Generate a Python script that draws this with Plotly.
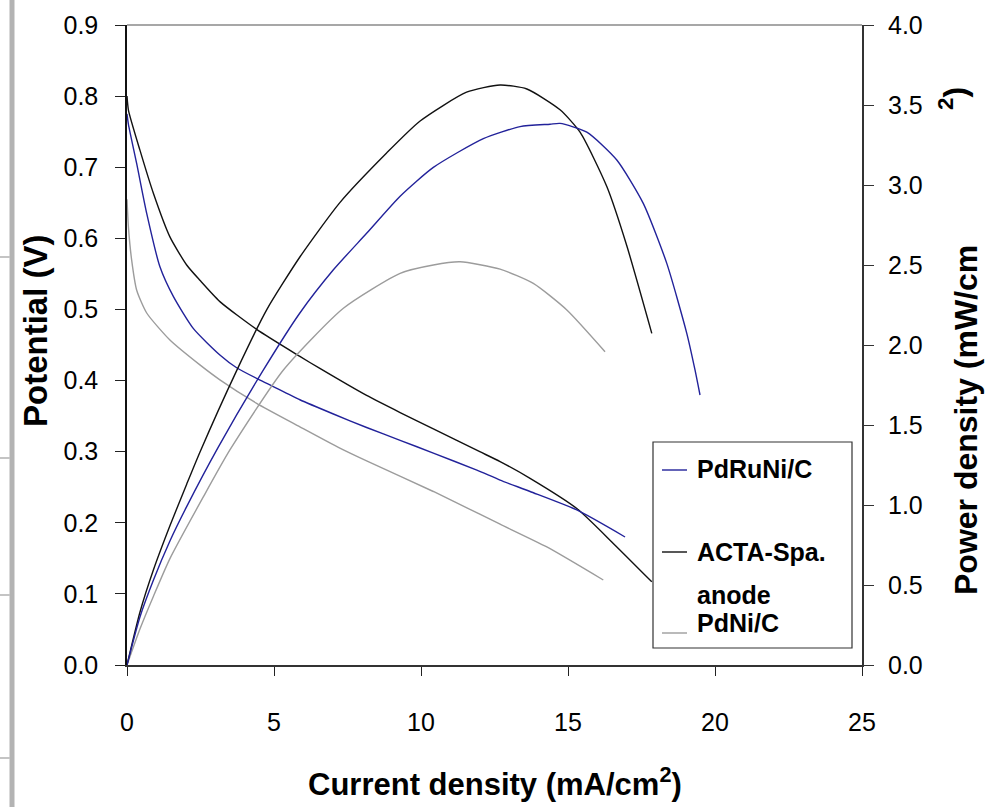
import plotly.graph_objects as go

# ---------------- data ----------------
# Polarization curves: current density (mA/cm2) vs potential (V)
I_acta_v = [0, 0.05, 0.44, 0.9, 1.46, 2.03, 2.48, 3.16, 4.41, 5.88, 6.56, 8.15, 9.29, 10.42, 12.0, 12.69, 13.71, 15.3, 16.54, 17.85]
V_acta = [0.80, 0.78, 0.724, 0.663, 0.602, 0.5625, 0.541, 0.511, 0.472, 0.434, 0.417, 0.379, 0.355, 0.332, 0.300, 0.286, 0.2625, 0.220, 0.171, 0.117]

I_runi_v = [0, 0.05, 0.33, 0.67, 1.12, 1.58, 2.26, 3.16, 3.73, 4.41, 4.86, 5.88, 7.02, 8.15, 9.29, 10.42, 11.9, 12.69, 13.71, 15.3, 16.94]
V_runi = [0.775, 0.76, 0.705, 0.635, 0.56, 0.518, 0.473, 0.436, 0.418, 0.403, 0.394, 0.373, 0.353, 0.334, 0.316, 0.298, 0.274, 0.260, 0.244, 0.218, 0.180]

I_ni_v = [0, 0.05, 0.16, 0.33, 0.67, 1.46, 2.48, 3.16, 4.41, 5.88, 7.24, 8.15, 10.42, 12.0, 12.69, 14.28, 16.2]
V_ni = [0.655, 0.615, 0.569, 0.527, 0.495, 0.457, 0.422, 0.401, 0.368, 0.335, 0.305, 0.287, 0.244, 0.212, 0.198, 0.166, 0.1195]

# Power density curves: current density (mA/cm2) vs power density (mW/cm2)
I_acta_p = [0, 0.44, 0.9, 1.46, 2.03, 2.48, 3.73, 4.75, 5.88, 7.24, 8.83, 9.97, 11.55, 12.69, 13.6, 14.73, 15.41, 16.32, 17.0, 17.85]
P_acta = [0, 0.33, 0.595, 0.87, 1.13, 1.33, 1.84, 2.22, 2.55, 2.89, 3.20, 3.40, 3.58, 3.625, 3.60, 3.47, 3.33, 2.99, 2.62, 2.073]

I_runi_p = [0, 0.44, 0.9, 1.46, 2.03, 3.1, 4.64, 5.88, 7.02, 8.15, 9.29, 10.42, 12.12, 13.37, 14.39, 14.73, 15.64, 16.66, 17.56, 18.36, 19.04, 19.32, 19.49]
P_runi = [0, 0.30, 0.531, 0.775, 0.99, 1.36, 1.844, 2.20, 2.47, 2.698, 2.93, 3.11, 3.29, 3.365, 3.38, 3.385, 3.33, 3.156, 2.885, 2.51, 2.073, 1.844, 1.6875]

I_ni_p = [0, 0.44, 0.9, 1.46, 2.6, 3.5, 5.32, 7.36, 9.29, 10.42, 11.33, 12.69, 13.82, 14.96, 16.26]
P_ni = [0, 0.225, 0.43, 0.665, 1.052, 1.344, 1.844, 2.23, 2.448, 2.50, 2.52, 2.474, 2.385, 2.219, 1.958]

series_names = ["PdRuNi/C", "ACTA-Spa.", "anode", "PdNi/C"]
x_ticks = [0, 5, 10, 15, 20, 25]

# ---------------- styling ----------------
C_BLUE = "#22229a"
C_BLACK = "#111111"
C_GRAY = "#9c9c9c"
FONT = "Arial, Liberation Sans, sans-serif"
LW = 1.4

fig = go.Figure()

def add(x, y, color, axis, name):
    fig.add_trace(go.Scatter(
        x=x, y=y, mode="lines", name=name, yaxis=axis, showlegend=False,
        line=dict(color=color, width=LW, shape="spline", smoothing=0.6)))

add(I_ni_v, V_ni, C_GRAY, "y", "PdNi/C")
add(I_ni_p, P_ni, C_GRAY, "y2", "PdNi/C")
add(I_acta_v, V_acta, C_BLACK, "y", "ACTA-Spa. anode")
add(I_acta_p, P_acta, C_BLACK, "y2", "ACTA-Spa. anode")
add(I_runi_v, V_runi, C_BLUE, "y", "PdRuNi/C")
add(I_runi_p, P_runi, C_BLUE, "y2", "PdRuNi/C")

TICKFONT = dict(family=FONT, size=25, color="#000")

# plot area in pixels: x 127..862, y 25..665
L, R, T, B = 127, 862, 25, 665
W, H = 986, 807
def px(x):
    return (x - L) / (R - L)
def py(y):
    return (B - y) / (B - T)

fig.update_layout(
    width=W, height=H,
    margin=dict(l=L, r=W - R, t=T, b=H - B, pad=0),
    paper_bgcolor="white", plot_bgcolor="white",
    xaxis=dict(range=[0, 25], tickvals=x_ticks, ticks="outside", ticklen=9,
               tickcolor="#222", tickwidth=1.3, showline=True, linecolor="#333",
               linewidth=1.5, showgrid=False, zeroline=False, tickfont=TICKFONT,
               ticklabelstandoff=25),
    yaxis=dict(range=[0, 0.9], dtick=0.1, tick0=0, tickformat=".1f", ticks="outside",
               ticklen=10, tickcolor="#222", tickwidth=1.3, showline=True,
               linecolor="#111", linewidth=1.5, showgrid=False, zeroline=False,
               tickfont=TICKFONT, ticklabelstandoff=12),
    yaxis2=dict(range=[0, 4], dtick=0.5, tick0=0, tickformat=".1f", ticks="outside",
                ticklen=10, tickcolor="#333", tickwidth=1.3, showline=True,
                linecolor="#333", linewidth=2, showgrid=False, zeroline=False,
                overlaying="y", side="right", tickfont=TICKFONT, ticklabelstandoff=9),
)

shapes = []
# top frame line (grey)
shapes.append(dict(type="line", xref="paper", yref="paper", x0=0, x1=1, y0=1, y1=1,
                   line=dict(color="#8a8a8a", width=1.5)))
# left grey page artifacts
shapes.append(dict(type="line", xref="paper", yref="paper", x0=px(12), x1=px(12),
                   y0=py(H), y1=py(0), line=dict(color="#b3b3b3", width=5)))
for yy in [257, 458, 595, 758]:
    shapes.append(dict(type="line", xref="paper", yref="paper", x0=px(0), x1=px(10),
                       y0=py(yy), y1=py(yy), line=dict(color="#c4c4c4", width=2)))
# custom legend box
shapes.append(dict(type="rect", xref="paper", yref="paper", x0=px(653), x1=px(852),
                   y0=py(648), y1=py(442), fillcolor="white",
                   line=dict(color="#333", width=1.2), layer="above"))
for yy, col in [(470, C_BLUE), (552, C_BLACK), (633, C_GRAY)]:
    shapes.append(dict(type="line", xref="paper", yref="paper", x0=px(662), x1=px(687),
                       y0=py(yy), y1=py(yy), line=dict(color=col, width=LW), layer="above"))
fig.update_layout(shapes=shapes)

LEGFONT = dict(family=FONT, size=25, color="#000")
TITLEFONT = dict(family=FONT, size=32, color="#000")
ann = []
for text, yy in [(series_names[0], 469), (series_names[1], 552), (series_names[2], 595), (series_names[3], 623)]:
    ann.append(dict(text="<b>%s</b>" % text, xref="paper", yref="paper", x=px(695), y=py(yy),
                    xanchor="left", yanchor="middle", showarrow=False, font=LEGFONT))
# axis titles
ann.append(dict(text="<b>Current density (mA/cm<sup>2</sup>)</b>", xref="paper", yref="paper",
                x=0.5, y=py(782), xanchor="center", yanchor="middle", showarrow=False,
                font=dict(family=FONT, size=31, color="#000")))
ann.append(dict(text="<b>Potential (V)</b>", xref="paper", yref="paper", x=px(35), y=py(330),
                xanchor="center", yanchor="middle", textangle=-90, showarrow=False,
                font=dict(family=FONT, size=33, color="#000")))
ann.append(dict(text="<b>Power density (mW/cm</b>", xref="paper", yref="paper", x=px(966), y=py(420),
                xanchor="center", yanchor="middle", textangle=-90, showarrow=False,
                font=TITLEFONT))
ann.append(dict(text="<b><sup>2</sup>)</b>", xref="paper", yref="paper", x=px(953), y=py(99),
                xanchor="center", yanchor="middle", textangle=-90, showarrow=False,
                font=TITLEFONT))
fig.update_layout(annotations=ann)

fig.write_html("out.html")
